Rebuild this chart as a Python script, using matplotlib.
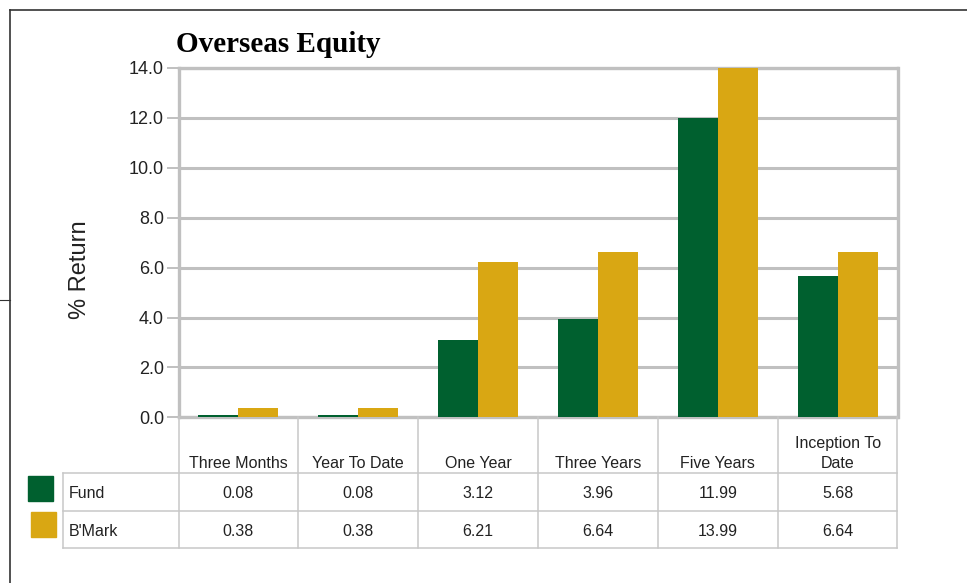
import matplotlib
matplotlib.use("Agg")
import matplotlib.pyplot as plt
import matplotlib.patches as mpatches
import matplotlib.transforms as mtransforms
from matplotlib.lines import Line2D
import numpy as np

# ---- data ----
periods = ["Three Months", "Year To Date", "One Year", "Three Years",
           "Five Years", "Inception To\nDate"]
fund = [0.08, 0.08, 3.12, 3.96, 11.99, 5.68]
bmark = [0.38, 0.38, 6.21, 6.64, 13.99, 6.64]
series_names = ["Fund", "B'Mark"]
y_ticks = [0.0, 2.0, 4.0, 6.0, 8.0, 10.0, 12.0, 14.0]

GREEN = "#00602F"
GOLD = "#D9A713"
GRID = "#c0c0c0"
TABLE_LINE = "#c8c8c8"
SANS = ["Liberation Sans", "DejaVu Sans"]

W, H = 967, 583
fig = plt.figure(figsize=(W / 100, H / 100), dpi=100)


def fx(x):
    return x / W


def fy(y):
    return 1 - y / H


ax = fig.add_axes([fx(178.5), fy(417.4), (897.5 - 178.5) / W, (417.4 - 68) / H])

x = np.arange(len(periods))
bw = 1 / 3
ax.bar(x - bw / 2, fund, width=bw, color=GREEN, zorder=3)
ax.bar(x + bw / 2, bmark, width=bw, color=GOLD, zorder=3)

ax.set_xlim(-0.5, len(periods) - 0.5)
ax.set_ylim(0, 14)
ax.set_xticks([])
ax.set_yticks(y_ticks)
ax.set_yticklabels([f"{v:.1f}" for v in y_ticks], fontsize=13, family=SANS,
                   color="#222222")
ax.tick_params(axis="y", length=9, width=1.4, color=GRID, pad=1.5)
ax.set_axisbelow(True)
ax.yaxis.grid(True, color=GRID, linewidth=2.2)
for sp in ax.spines.values():
    sp.set_color(GRID)
    sp.set_linewidth(2.4)
    sp.set_zorder(1)

# title and y label
fig.text(fx(176), fy(52), "Overseas Equity", fontsize=21, fontweight="bold",
         family=["Liberation Serif", "DejaVu Serif"], ha="left", va="baseline")
fig.text(fx(80), fy(270), "% Return", fontsize=17, rotation=90,
         family=SANS, ha="center", va="center", color="#222222")

# ---- data table under the axes ----
blend = mtransforms.blended_transform_factory(ax.transData, fig.transFigure)
label_left = -0.5 - 0.96
row_edges = [417.4, 473, 511, 548]

for b in np.arange(-0.5, len(periods), 1.0):
    fig.add_artist(Line2D([b, b], [fy(row_edges[0]), fy(row_edges[-1])],
                          transform=blend, color=TABLE_LINE, lw=1.1))
fig.add_artist(Line2D([label_left, label_left], [fy(row_edges[1]), fy(row_edges[-1])],
                      transform=blend, color=TABLE_LINE, lw=1.1))
for ry in row_edges[1:]:
    fig.add_artist(Line2D([label_left, len(periods) - 0.5], [fy(ry), fy(ry)],
                          transform=blend, color=TABLE_LINE, lw=1.1))

for i, p in enumerate(periods):
    fig.text(i, fy(470.5), p, transform=blend, ha="center", va="bottom",
             fontsize=11.5, family=SANS, color="#222222", linespacing=1.35)

rows = [fund, bmark]
colors = [GREEN, GOLD]
baselines = [498.5, 536.5]
squares = [(28, 476), (31, 512)]
for name, vals, col, base, (sx, sy) in zip(series_names, rows, colors, baselines, squares):
    fig.text(label_left + 0.045, fy(base), name, transform=blend, ha="left",
             va="baseline", fontsize=11.5, family=SANS, color="#222222")
    for i, v in enumerate(vals):
        fig.text(i, fy(base), f"{v:.2f}", transform=blend, ha="center",
                 va="baseline", fontsize=11.5, family=SANS, color="#222222")
    fig.add_artist(mpatches.Rectangle((fx(sx), fy(sy + 25)), 25 / W, 25 / H,
                                      transform=fig.transFigure, color=col))

# outer frame lines
frame = "#333333"
fig.add_artist(Line2D([fx(10), 1], [fy(10), fy(10)], transform=fig.transFigure,
                      color=frame, lw=1.2))
fig.add_artist(Line2D([fx(10), fx(10)], [fy(10), 0], transform=fig.transFigure,
                      color=frame, lw=1.2))
fig.add_artist(Line2D([0, fx(10)], [fy(300), fy(300)], transform=fig.transFigure,
                      color=frame, lw=0.8))

fig.savefig("out.png", dpi=100)
